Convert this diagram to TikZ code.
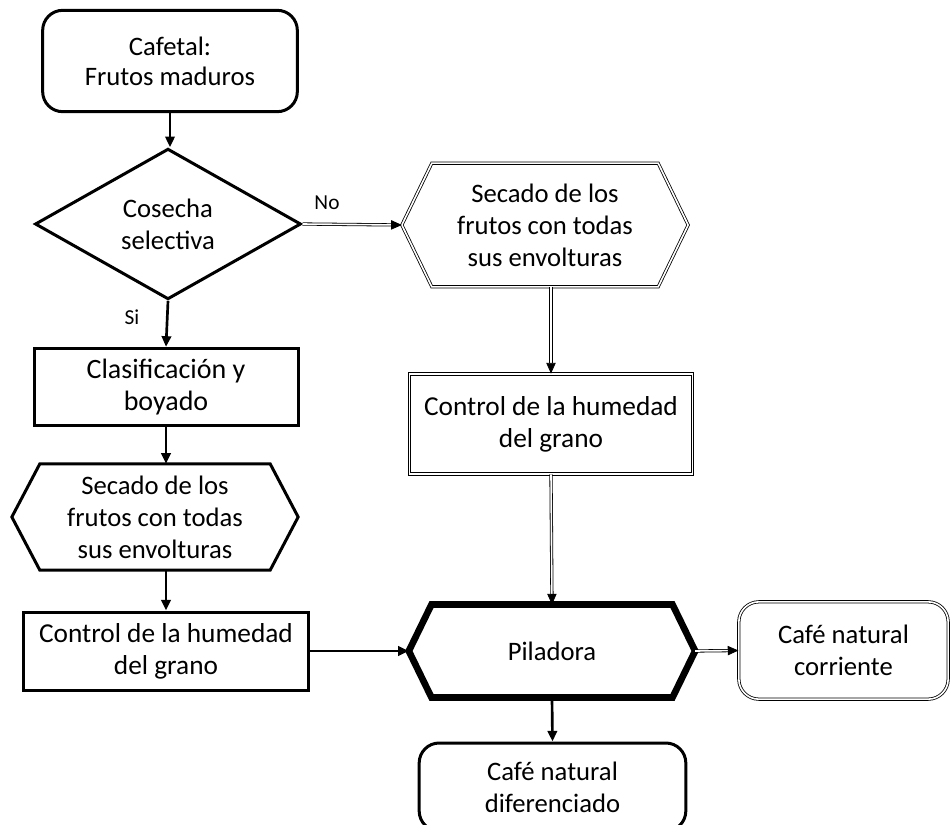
\documentclass[tikz,border=0pt]{standalone}
\usepackage{fontspec}
\setmainfont{Carlito}
\usetikzlibrary{arrows.meta,shapes.geometric}

\tikzset{every picture/.style={line width=0.75pt}}
\tikzset{
  box/.style={draw, line width=2.25pt, align=center, inner sep=0pt, font=\fontsize{20}{24}\selectfont},
  dbox/.style={draw, double, double distance=1.2pt, line width=0.6pt, align=center, inner sep=0pt, font=\fontsize{20}{24}\selectfont},
  hexa/.style={draw=none, align=center, inner sep=0pt, font=\fontsize{20}{24}\selectfont},
  lbl/.style={inner sep=0.75pt, font=\fontsize{16}{18}\selectfont},
  flow/.style={line width=2pt, -{Triangle[length=8pt,width=7pt]}},
  dflow/.style={double, double distance=1.2pt, line width=0.6pt, -{Triangle[length=8pt,width=7pt]}},
}
% hexagon outline round a node: style, node, indent
\newcommand{\drawhex}[3]{%
  \draw[#1] (#2.west) -- ([xshift=#3]#2.north west) -- ([xshift=-#3]#2.north east) -- (#2.east)
    -- ([xshift=-#3]#2.south east) -- ([xshift=#3]#2.south west) -- cycle;}

\begin{document}
\begin{tikzpicture}[x=0.75pt,y=0.75pt,yscale=-1,xscale=1]
\useasboundingbox (0,0) rectangle (951,825);

%Rounded Rect: Cafetal
\node [box, rounded corners=15pt, minimum width=191pt, minimum height=76pt, font=\fontsize{20}{22.5}\selectfont] (cafetal) at (170,61) {Cafetal:\\Frutos maduros};
%Shape: Diamond
\node [diamond, box, minimum width=199.5pt, minimum height=113pt] (cosecha) at (168,224) {Cosecha\\selectiva};
%Rect: Clasificacion
\node [box, minimum width=198pt, minimum height=58pt, font=\fontsize{21}{24}\selectfont] (clasif) at (166,387) {Clasificación y\\boyado};
%Hexagon: left Secado
\node [hexa, minimum width=214pt, minimum height=79pt] (secadoL) at (155,517) {Secado de los\\frutos con todas\\sus envolturas};
\drawhex{line width=2.25pt}{secadoL}{21pt}
%Rect: left Control
\node [box, minimum width=214pt, minimum height=58.5pt, font=\fontsize{20.5}{24}\selectfont] (controlL) at (166,651) {Control de la humedad\\del grano};
%Hexagon: right Secado
\node [hexa, minimum width=214pt, minimum height=92pt] (secadoR) at (545,225) {Secado de los\\frutos con todas\\sus envolturas};
\drawhex{double, double distance=1.2pt, line width=0.6pt}{secadoR}{22.5pt}
%Rect: right Control
\node [dbox, minimum width=212pt, minimum height=75pt, font=\fontsize{20.5}{24}\selectfont] (controlR) at (551,424) {Control de la humedad\\del grano};
%Hexagon: Piladora
\node [hexa, minimum width=214pt, minimum height=69pt] (pila) at (552,651) {Piladora};
\drawhex{line width=5pt}{pila}{17pt}
%Rounded Rect: corriente
\node [dbox, rounded corners=15pt, minimum width=157pt, minimum height=73pt] (corriente) at (843.5,650.5) {Café natural\\corriente};
%Rounded Rect: diferenciado
\node [box, rounded corners=15pt, minimum width=200pt, minimum height=66pt] (diferenciado) at (552.5,787) {Café natural\\diferenciado};

%Straight Lines
\draw [flow] (cafetal.south) -- (cafetal.south |- cosecha.north);
\draw [dflow] (cosecha.east) -- (secadoR.west);
\draw [flow] (cosecha.south) -- (clasif.north);
\draw [flow] (clasif.south) -- (clasif.south |- secadoL.north);
\draw [flow] (controlL.north |- secadoL.south) -- (controlL.north);
\draw [flow] (controlL.east) -- (pila.west);
\draw [dflow] (controlR.north |- secadoR.south) -- (controlR.north);
\draw [dflow] (controlR.south) -- (pila.north);
\draw [dflow] (pila.east) -- (corriente.west);
\draw [flow] (pila.south) -- (diferenciado.north);

% Text Node
\node [lbl] (no) at (327,203) {No};
% Text Node
\node [lbl] (si) at (132,317) {Si};

\end{tikzpicture}
\end{document}
